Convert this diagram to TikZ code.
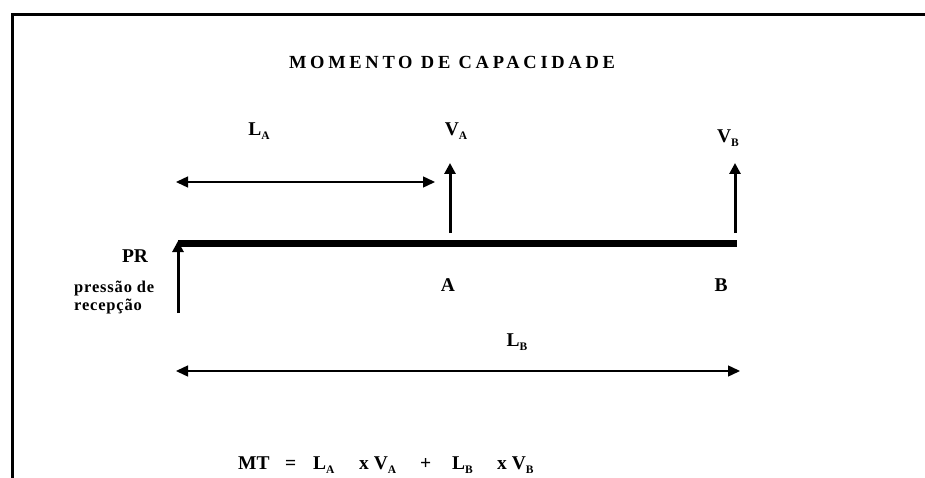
\documentclass[tikz,border=0pt]{standalone}
\usepackage{fontspec}
\setmainfont{Liberation Serif}
\newfontfamily\titlefont[LetterSpace=20]{Liberation Serif}
\newfontfamily\spacedfont[LetterSpace=5]{Liberation Serif}
\usetikzlibrary{arrows.meta}
\newcommand\sbs[1]{\raisebox{-0.5ex}{\fontsize{11.5}{11.5}\selectfont\bfseries #1}}
\tikzset{
  lbl/.style={font=\fontsize{19.5}{19.5}\selectfont\bfseries, inner sep=0pt},
  small/.style={font=\spacedfont\fontsize{16.5}{18}\selectfont\bfseries, inner sep=0pt, align=left},
  force/.style={line width=3pt, -{Triangle[length=11pt,width=11pt]}},
  dim/.style={line width=1.4pt, {Triangle[length=12pt,width=11pt]}-{Triangle[length=12pt,width=11pt]}},
  beam/.style={line width=7pt},
  frame/.style={line width=3pt}
}
\begin{document}
\begin{tikzpicture}[x=1pt,y=-1pt]
\useasboundingbox (0,0) rectangle (925,478);
\clip (0,0) rectangle (925,478);
\draw[frame] (12.5,14.5) rectangle (960,520);
% title
\node[inner sep=0pt, font=\titlefont\fontsize{18.5}{18.5}\selectfont\bfseries] (title) at (452,62) {MOMENTO DE CAPACIDADE};
% coordinates
\coordinate (b0) at (178,243);
\coordinate (b1) at (737,243);
\coordinate (pr0) at (178,313);
\coordinate (pr1) at (178,241);
\coordinate (va0) at (450,233);
\coordinate (va1) at (450,163);
\coordinate (vb0) at (735,233);
\coordinate (vb1) at (735,163);
\coordinate (la0) at (176,182);
\coordinate (la1) at (435,182);
\coordinate (lb0) at (176,371);
\coordinate (lb1) at (740,371);
% beam and arrows
\draw[beam] (b0) -- (b1);
\draw[force] (pr0) -- (pr1);
\draw[force] (va0) -- (va1);
\draw[force] (vb0) -- (vb1);
\draw[dim] (la0) -- (la1);
\draw[dim] (lb0) -- (lb1);
% labels
\node[lbl] (LA) at (259,131) {L\sbs{A}};
\node[lbl] (VA) at (456,131) {V\sbs{A}};
\node[lbl] (VB) at (728,138) {V\sbs{B}};
\node[lbl] (PR) at (135,256) {PR};
\node[small, anchor=north west] (pr) at (74,281) {pressão de\\recepção};
\node[lbl] (A) at (448,285) {A};
\node[lbl] (B) at (721,285) {B};
\node[lbl] (LB) at (517,342) {L\sbs{B}};
% formula
\node[lbl, anchor=base west] (eq1) at (238,469) {MT};
\node[lbl, anchor=base west] (eq2) at (285,469) {=};
\node[lbl, anchor=base west] (eq3) at (313,469) {L\sbs{A}};
\node[lbl, anchor=base west] (eq4) at (359,469) {x V\sbs{A}};
\node[lbl, anchor=base west] (eq5) at (420,469) {+};
\node[lbl, anchor=base west] (eq6) at (452,469) {L\sbs{B}};
\node[lbl, anchor=base west] (eq7) at (497,469) {x V\sbs{B}};
\end{tikzpicture}
\end{document}
